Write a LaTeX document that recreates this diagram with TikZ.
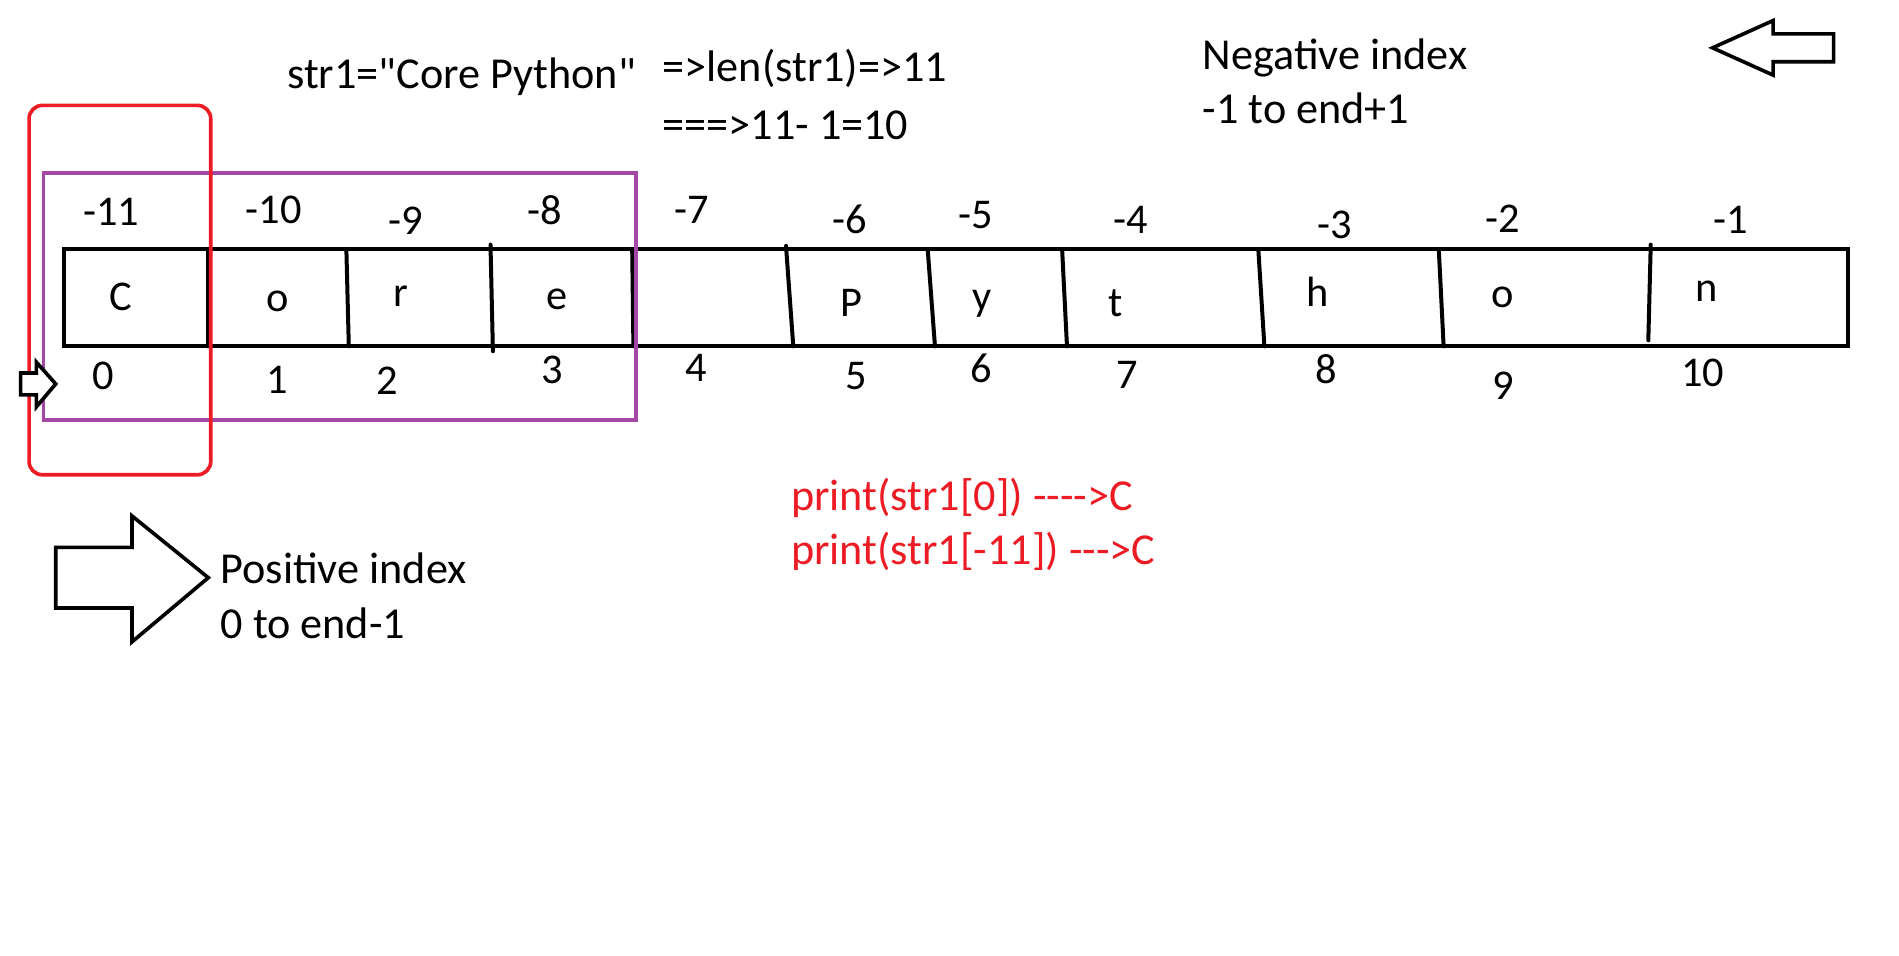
\documentclass[tikz,border=0pt]{standalone}
\usepackage{fontspec}
\setmainfont{Carlito}
\definecolor{pred}{HTML}{ED1C24}
\definecolor{ppurple}{HTML}{A349A4}
\newcommand\straightquote{\XeTeXglyph\XeTeXcharglyph"22\relax}
\begin{document}
\begin{tikzpicture}[x=1pt,y=-1pt,
  lbl/.style={anchor=base,inner sep=0pt,font=\fontsize{35}{42}\selectfont},
  txt/.style={anchor=base west,inner sep=0pt,font=\fontsize{36.5}{44}\selectfont},
  boxline/.style={line width=3.3pt},
  divider/.style={line width=3.3pt,line cap=round},
  arrowshape/.style={line width=3pt,line join=miter},
  redbox/.style={draw=pred,line width=3pt,rounded corners=11pt},
  purplebox/.style={draw=ppurple,line width=3pt}]
\useasboundingbox[fill=white] (0,0) rectangle (1568,789);

% header texts
\node[txt] (title) at (237,73) {str1=\straightquote Core Python\straightquote};
\node[txt] (len) at (547,67) {=>len(str1)=>11};
\node[txt] (calc) at (547,115) {===>11- 1=10};
\node[txt] (neg1) at (993,57.5) {Negative index};
\node[txt] (neg2) at (993,102) {-1 to end+1};

% negative-direction arrow
\draw[arrowshape] (1414,39.5) -- (1464,17) -- (1464,28) -- (1514,28) -- (1514,51) -- (1464,51) -- (1464,62) -- cycle;

% string box
\draw[boxline] (53,206) rectangle (1526,286);
\draw[divider] (172,206) -- (172,286);
\draw[divider] (286,206) -- (288,286);
\draw[divider] (405,202) -- (407,290);
\draw[divider] (522,206) -- (523,286);
\draw[divider] (649,203) -- (655,286);
\draw[divider] (766,206) -- (772,286);
\draw[divider] (877,206) -- (881,286);
\draw[divider] (1039,206) -- (1044,286);
\draw[divider] (1188,206) -- (1192,286);
\draw[divider] (1363,202) -- (1361,281);

% negative indices
\foreach \x/\y/\t/\n in {92/186/-11/nm11, 226/184.5/-10/nm10, 335/194/-9/nm9, 450/185/-8/nm8,
  571/184.5/-7/nm7, 702/193/-6/nm6, 806/188.5/-5/nm5, 934/193/-4/nm4,
  1102/197/-3/nm3, 1241/192/-2/nm2, 1429/193/-1/nm1}
  \node[lbl] (\n) at (\x,\y) {\t};

% characters
\foreach \x/\y/\t/\n in {100/256.5/C/c0, 229/257.4/o/c1, 331/253.2/r/c2, 460/255.4/e/c3,
  703/261.5/P/c5, 811/256/y/c6, 921/261.5/t/c7, 1088/253/h/c8, 1241/253.8/o/c9, 1409/249/n/c10}
  \node[lbl] (\n) at (\x,\y) {\t};

% positive indices
\foreach \x/\y/\t/\n in {85/322/0/p0, 229/324.8/1/p1, 320/326/2/p2, 456/317/3/p3,
  575/315/4/p4, 707/321.5/5/p5, 810/316/6/p6, 931/320.7/7/p7,
  1095/316.5/8/p8, 1241/330/9/p9, 1406/319.3/10/p10}
  \node[lbl] (\n) at (\x,\y) {\t};

% highlight boxes
\draw[purplebox] (36,143) rectangle (525,347);
\draw[redbox] (24,87) rectangle (174,392);

% small arrow at left
\draw[arrowshape,fill=white] (17,308) -- (30,308) -- (30,299) -- (46,317) -- (30,336) -- (30,326) -- (17,326) -- cycle;

% positive-direction arrow
\draw[arrowshape] (46,452) -- (109,452) -- (109,426) -- (172,477) -- (109,530) -- (109,502) -- (46,502) -- cycle;
\node[txt] (pos1) at (182,482) {Positive index};
\node[txt] (pos2) at (182,527.5) {0 to end-1};

% red examples
\node[txt,text=pred] (pr1) at (653,421.5) {print(str1[0]) -\kern0pt-\kern0pt-\kern0pt->C};
\begin{scope}
\clip (640,430) rectangle (1000,470.5);
\node[txt,text=pred] (pr2) at (653,466) {print(str1[-11]) -\kern0pt-\kern0pt->C};
\end{scope}
\end{tikzpicture}
\end{document}
